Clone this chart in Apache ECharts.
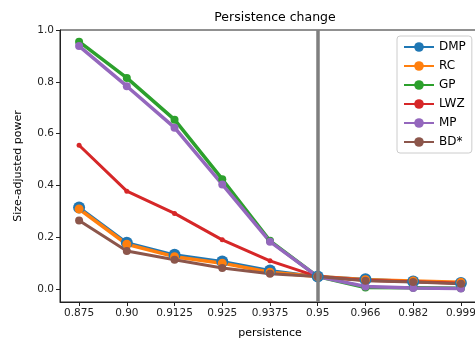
<!DOCTYPE html>
<html><head><meta charset="utf-8">
<script src="https://cdn.jsdelivr.net/npm/echarts@6/dist/echarts.min.js"></script>
<style>html,body{margin:0;padding:0;background:#fff}#c{width:475px;height:342px}</style>
</head><body><div id="c"></div>
<script>
const categories = ['0.875','0.90','0.9125','0.925','0.9375','0.95','0.966','0.982','0.999'];
const yTicks = [0, 0.2, 0.4, 0.6, 0.8, 1.0];
const DMP = [0.315, 0.179, 0.132, 0.106, 0.072, 0.048, 0.038, 0.029, 0.023];
const RC  = [0.309, 0.173, 0.125, 0.100, 0.065, 0.048, 0.036, 0.031, 0.026];
const GP  = [0.955, 0.815, 0.654, 0.424, 0.186, 0.048, 0.006, 0.005, 0.003];
const LWZ = [0.555, 0.378, 0.292, 0.190, 0.109, 0.048, 0.034, 0.028, 0.022];
const MP  = [0.938, 0.783, 0.623, 0.404, 0.183, 0.048, 0.010, 0.004, 0.002];
const BD  = [0.265, 0.147, 0.113, 0.081, 0.059, 0.048, 0.032, 0.027, 0.020];
const vLine = 5;

const font = 'DejaVu Sans';
const pts = arr => arr.map((v, i) => [i, v]);
function mk(name, data, color, lw, sym) {
  return { name, type: 'line', data: pts(data), symbol: 'circle', symbolSize: sym,
    lineStyle: { color, width: lw }, itemStyle: { color }, color, animation: false,
    emphasis: { disabled: true } };
}
const chart = echarts.init(document.getElementById('c'));
chart.setOption({
  animation: false,
  title: { text: 'Persistence change', left: 270, top: 6, textAlign: 'center',
    textStyle: { fontFamily: font, fontSize: 12.5, fontWeight: 'normal', color: '#000' } },
  grid: { left: 60, top: 30, width: 420, bottom: 40, show: true, borderColor: '#222', borderWidth: 1,
    outerBoundsMode: 'none', containLabel: false },
  xAxis: { type: 'value', min: -0.4, max: 8.4,
    name: 'persistence', nameLocation: 'middle', nameGap: 26,
    nameTextStyle: { fontFamily: font, fontSize: 11, color: '#000' },
    axisLine: { show: true, onZero: false, lineStyle: { color: '#222' } },
    axisTick: { show: true, length: 4, lineStyle: { color: '#222' }, customValues: [0,1,2,3,4,5,6,7,8] },
    axisLabel: { customValues: [0,1,2,3,4,5,6,7,8], formatter: v => categories[Math.round(v)],
      fontFamily: font, fontSize: 10.5, color: '#222', margin: 6 },
    splitLine: { show: false } },
  yAxis: { type: 'value', min: -0.05, max: 1.0,
    name: 'Size-adjusted power', nameLocation: 'middle', nameGap: 36,
    nameTextStyle: { fontFamily: font, fontSize: 11, color: '#000' },
    axisLine: { show: true, onZero: false, lineStyle: { color: '#222' } },
    axisTick: { show: true, length: 4, lineStyle: { color: '#222' }, customValues: yTicks },
    axisLabel: { customValues: yTicks, formatter: v => v.toFixed(1),
      fontFamily: font, fontSize: 10.5, color: '#222', margin: 6 },
    splitLine: { show: false } },
  legend: { orient: 'vertical', left: 397, top: 36, padding: [5, 6, 5, 6],
    itemWidth: 30, itemHeight: 12, itemGap: 7,
    backgroundColor: '#fff', borderColor: '#ccc', borderWidth: 1, borderRadius: 3,
    textStyle: { fontFamily: font, fontSize: 12, color: '#000' },
    data: ['DMP','RC','GP','LWZ','MP','BD*'] },
  series: [
    { type: 'line', data: [], silent: true, z: 1,
      markLine: { silent: true, symbol: 'none', label: { show: false },
        lineStyle: { color: '#7f7f7f', width: 3.5, type: 'solid' },
        data: [{ xAxis: vLine }] } },
    mk('DMP', DMP, '#1f77b4', 3, 12),
    mk('RC', RC, '#ff7f0e', 3.5, 9),
    mk('GP', GP, '#2ca02c', 3.5, 8),
    mk('LWZ', LWZ, '#d62728', 3, 5),
    mk('MP', MP, '#9467bd', 3.5, 8),
    mk('BD*', BD, '#8c564b', 3, 8)
  ]
});
</script></body></html>
